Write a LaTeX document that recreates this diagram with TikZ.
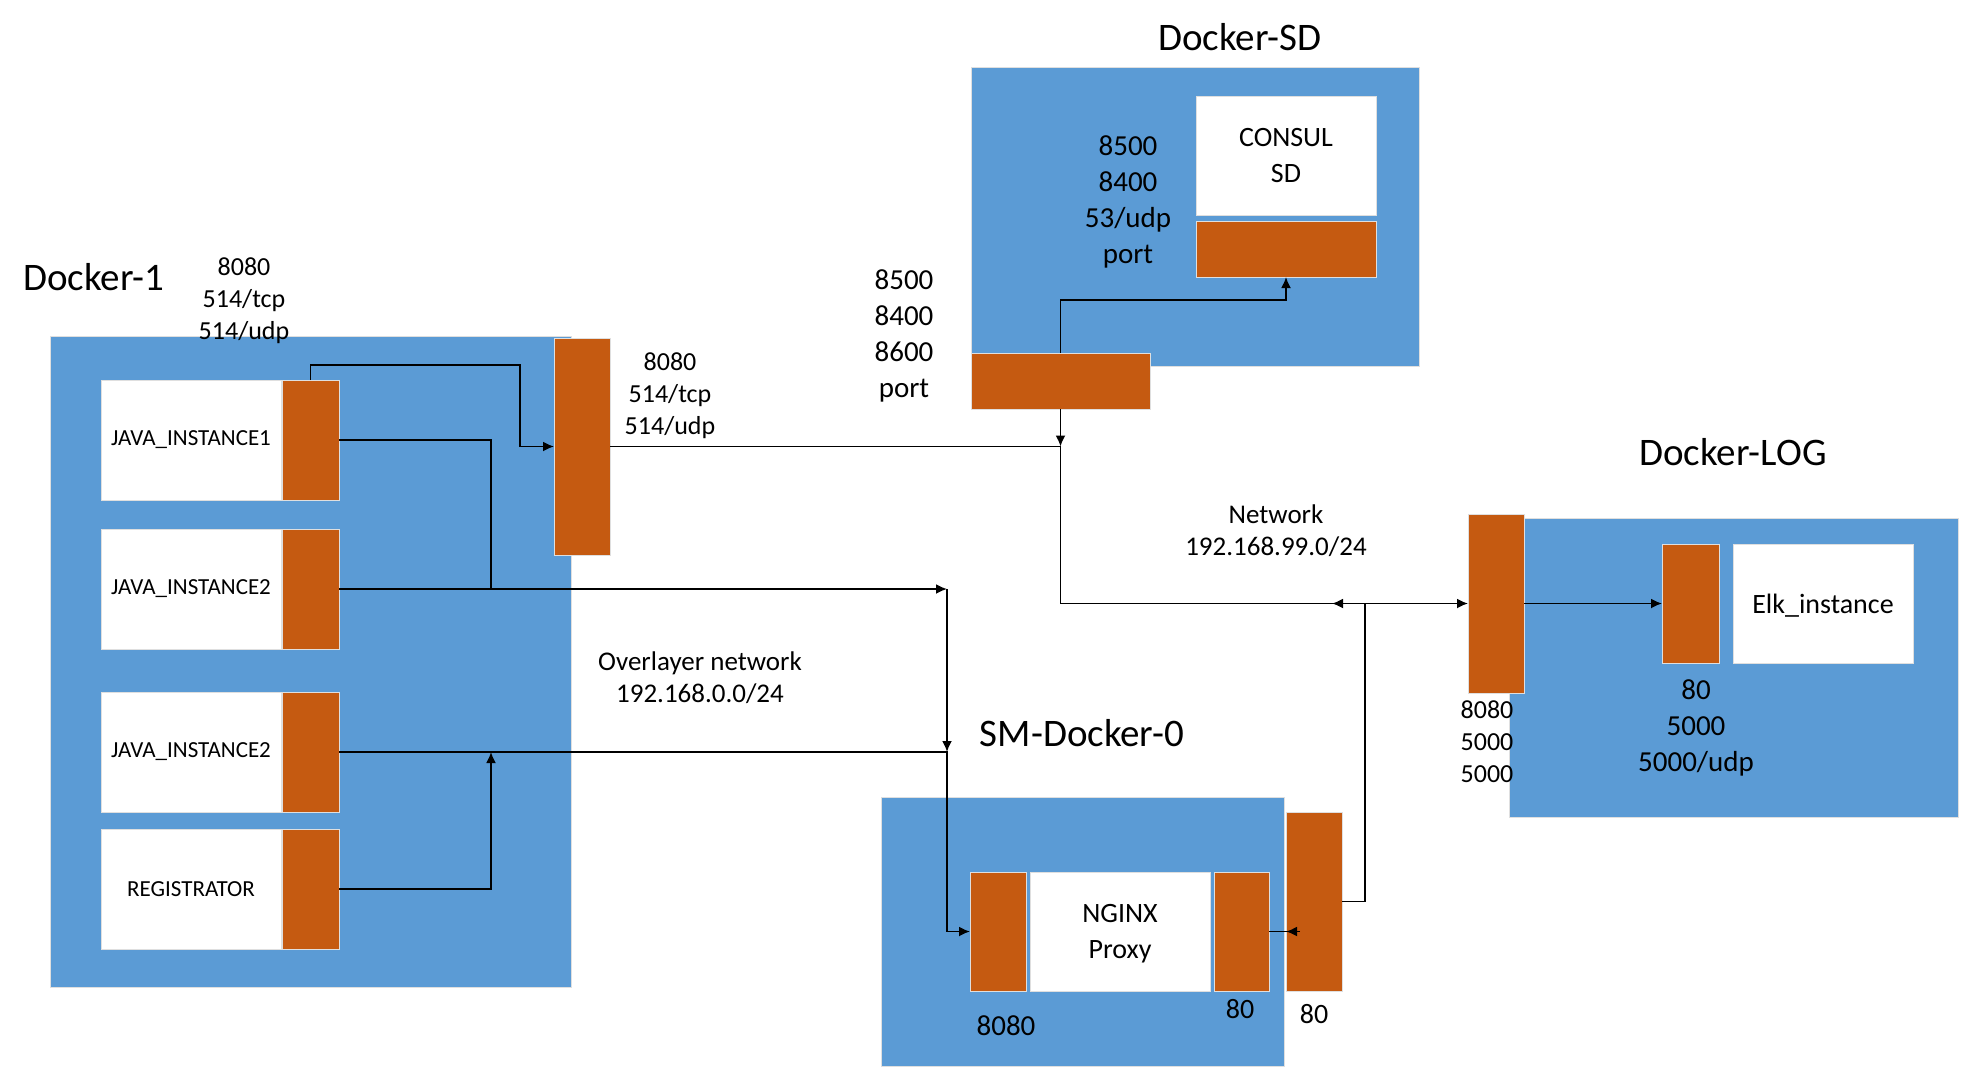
\documentclass[tikz,border=0pt]{standalone}
\usepackage{fontspec}
\setmainfont{Carlito}
\usetikzlibrary{arrows.meta}
\definecolor{dockBlue}{HTML}{5B9BD5}
\definecolor{portOrange}{HTML}{C55A11}

\begin{document}
\begin{tikzpicture}[x=1pt, y=-1pt,
		hostBox/.style={draw=gray!25, line width=1pt, fill=dockBlue, inner sep=0pt, outer sep=0pt, anchor=north west},
		appBox/.style={hostBox, fill=white, align=center, font=\fontsize{23}{30}\selectfont},
		bigAppBox/.style={appBox, font=\fontsize{28}{36}\selectfont, text depth=-4pt},
		portBox/.style={hostBox, fill=portOrange},
		wire/.style={line width=1.8pt},
		linkArrow/.style={wire, -{Latex[length=11pt,width=10pt]}},
		hostTitle/.style={font=\fontsize{39}{46}\selectfont},
		portText/.style={align=center, font=\fontsize{26}{32}\selectfont},
		wideText/.style={align=center, font=\fontsize{29}{36}\selectfont},
		netText/.style={align=center, font=\fontsize{27}{32}\selectfont}]
		\def\appW{180pt};
		\def\appH{120pt};
		\def\portW{57pt};
		
		\useasboundingbox (0,0) rectangle (1966,1076);
		
		%docker-1 box
		\node[hostBox, minimum width=521pt, minimum height=651pt] (dockerOne) at (50,336) {};
		\node[hostTitle] (dockerOneTitle) at (94,277) {Docker-1};
		\node[portText] (dockerOnePorts) at (244,300.5) {8080\\514/tcp\\514/udp};
		
		%docker-1 containers
		\node[appBox, minimum width=\appW, minimum height=\appH] (javaOne) at (101,380) {JAVA\_INSTANCE1};
		\node[portBox, minimum width=\portW, minimum height=\appH] (portOne) at (282,380) {};
		\node[appBox, minimum width=\appW, minimum height=\appH] (javaTwo) at (101,529) {JAVA\_INSTANCE2};
		\node[portBox, minimum width=\portW, minimum height=\appH] (portTwo) at (282,529) {};
		\node[appBox, minimum width=\appW, minimum height=\appH] (javaThree) at (101,692) {JAVA\_INSTANCE2};
		\node[portBox, minimum width=\portW, minimum height=\appH] (portThree) at (282,692) {};
		\node[appBox, minimum width=\appW, minimum height=\appH] (registrator) at (101,829) {REGISTRATOR};
		\node[portBox, minimum width=\portW, minimum height=\appH] (portFour) at (282,829) {};
		
		\node[portBox, minimum width=56pt, minimum height=217pt] (bigPort) at (554,338) {};
		\node[portText] (bigPortPorts) at (670,395.5) {8080\\514/tcp\\514/udp};
		
		%docker-sd box
		\node[hostBox, minimum width=448pt, minimum height=299pt] (dockerSD) at (971,67) {};
		\node[hostTitle] (dockerSDTitle) at (1240,37) {Docker-SD};
		\node[bigAppBox, minimum width=\appW, minimum height=119pt] (consul) at (1196,96) {CONSUL\\SD};
		\node[portBox, minimum width=\appW, minimum height=56pt] (consulPort) at (1196,221) {};
		\node[wideText] (consulPorts) at (1128,201.5) {8500\\8400\\53/udp\\port};
		\node[portBox, minimum width=179pt, minimum height=56pt] (sdPort) at (971,353) {};
		\node[wideText] (sdPorts) at (904,335.5) {8500\\8400\\8600\\port};
		
		%sm-docker-0 box
		\node[hostBox, minimum width=403pt, minimum height=269pt] (smDocker) at (881,797) {};
		\node[hostTitle] (smDockerTitle) at (1082,733) {SM-Docker-0};
		\node[portBox, minimum width=56pt, minimum height=119pt] (ngLeftPort) at (970,872) {};
		\node[bigAppBox, minimum width=\appW, minimum height=119pt] (nginx) at (1030,872) {NGINX\\Proxy};
		\node[portBox, minimum width=55pt, minimum height=119pt] (ngRightPort) at (1214,872) {};
		\node[portBox, minimum width=56pt, minimum height=179pt] (smPort) at (1286,812) {};
		\node[wideText] (ngLeftText) at (1006,1026) {8080};
		\node[wideText, font=\fontsize{28}{36}\selectfont] (ngRightText) at (1240,1009) {80};
		\node[wideText, font=\fontsize{28}{36}\selectfont] (smPortText) at (1314,1014) {80};
		
		%docker-log box
		\node[hostBox, minimum width=449pt, minimum height=299pt] (dockerLog) at (1509,518) {};
		\node[hostTitle] (dockerLogTitle) at (1733,452) {Docker-LOG};
		\node[portBox, minimum width=56pt, minimum height=179pt] (logPort) at (1468,514) {};
		\node[portBox, minimum width=\portW, minimum height=119pt] (elkPort) at (1662,544) {};
		\node[bigAppBox, minimum width=\appW, minimum height=119pt] (elk) at (1733,544) {Elk\_instance};
		\node[portText] (logPorts) at (1487,741.5) {8080\\5000\\5000};
		\node[wideText] (elkPorts) at (1696,728) {80\\5000\\5000/udp};
		
		%networks
		\node[netText] (overlayNet) at (700,678) {Overlayer network\\192.168.0.0/24};
		\node[netText] (hostNet) at (1276,530.5) {Network\\192.168.99.0/24};
		
		%docker-1 links
		\coordinate (jOneTurn) at (520,365);
		\coordinate (regBus) at (491,0);
		\coordinate (smTurn) at (947,589);
		\coordinate (smJoin) at (947,752);
		\draw[linkArrow] (portOne.north) |- (jOneTurn) |- (bigPort.west);
		\draw[wire] (portOne.east) -| (regBus |- portTwo.east);
		\draw[linkArrow] (portFour.east) -| (regBus |- portThree.east);
		\draw[linkArrow] (portTwo.east) -- (smTurn);
		\draw[linkArrow] (smTurn) -- (smJoin);
		\draw[linkArrow] (portThree.east) -- (smJoin) |- (ngLeftPort.west);
		
		%network links
		\coordinate (netJoin) at (sdPort.south |- bigPort.east);
		\coordinate (sdTurn) at (1286,300);
		\coordinate (logBus) at (1365,603.5);
		\coordinate (logBusTip) at (1332,603.5);
		\coordinate (smInner) at (1300,931.5);
		\draw[wire] (bigPort.east) -- (netJoin);
		\draw[linkArrow] (sdPort.south) -- (netJoin);
		\draw[linkArrow] (sdPort.north) |- (sdTurn) -- (consulPort.south);
		\draw[linkArrow] (netJoin) |- (logPort.west);
		\draw[wire] (smPort.east) -| (logBus);
		\draw[linkArrow] (logBus) -- (logBusTip);
		\draw[linkArrow] (logPort.east) -- (elkPort.west);
		\draw[wire] (ngRightPort.east) -- (smInner);
		\draw[linkArrow] (smInner) -- (smPort.west |- smInner);
	
	\end{tikzpicture}
\end{document}
